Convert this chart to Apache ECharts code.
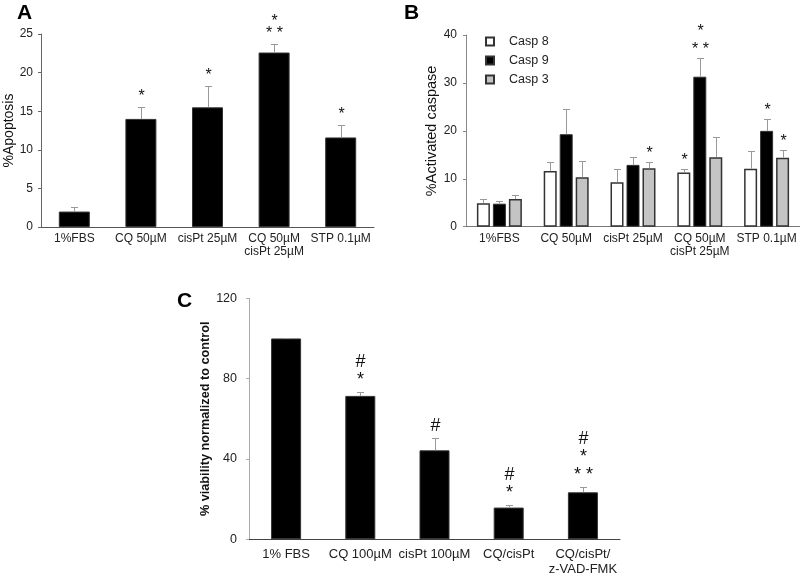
<!DOCTYPE html>
<html><head><meta charset="utf-8">
<script src="https://cdn.jsdelivr.net/npm/echarts@6/dist/echarts.min.js"></script>
<style>html,body{margin:0;padding:0;background:#fff}#c{width:800px;height:576px}</style>
</head><body><div id="c"></div>
<script>
// ---- data ----
const categoriesA = ['1%FBS', 'CQ 50µM', 'cisPt 25µM', 'CQ 50µM\ncisPt 25µM', 'STP 0.1µM'];
const apoptosis = [2.0, 14.0, 15.5, 22.6, 11.6];
const apoptosisErr = [0.65, 1.6, 2.7, 1.15, 1.6];
const apoptosisSig = ['', '*', '*', '*\n* *', '*'];

const categoriesB = ['1%FBS', 'CQ 50µM', 'cisPt 25µM', 'CQ 50µM\ncisPt 25µM', 'STP 0.1µM'];
const casp8 = [4.9, 11.6, 9.3, 11.3, 12.1];
const casp8Err = [0.9, 1.8, 2.7, 0.7, 3.6];
const casp8Sig = ['', '', '', '*', ''];
const casp9 = [4.8, 19.3, 12.9, 31.3, 20.0];
const casp9Err = [0.6, 5.2, 1.7, 3.9, 2.4];
const casp9Sig = ['', '', '', '*\n* *', '*'];
const casp3 = [5.8, 10.3, 12.2, 14.5, 14.4];
const casp3Err = [0.8, 3.5, 1.2, 4.3, 1.6];
const casp3Sig = ['', '', '*', '', '*'];

const categoriesC = ['1% FBS', 'CQ 100µM', 'cisPt 100µM', 'CQ/cisPt', 'CQ/cisPt/\nz-VAD-FMK'];
const viability = [100, 71.4, 44.3, 15.8, 23.4];
const viabilityErr = [0.3, 1.8, 6.0, 1.1, 2.5];
const viabilitySig = ['', '#\n*', '#', '#\n*', '#\n*\n* *'];

// ---- chart ----
const FONT = '"Liberation Sans", Arial, Helvetica, sans-serif';
const chart = echarts.init(document.getElementById('c'), null, {renderer: 'canvas'});

function errSeries(name, idx, values, errors, sigs, offset, sig) {
  return {
    type: 'custom', name: name, xAxisIndex: idx, yAxisIndex: idx, z: 5, silent: true,
    data: values.map((v, i) => [i, v, errors[i]]),
    renderItem: function (params, api) {
      const i = api.value(0), v = api.value(1), e = api.value(2);
      const base = api.coord([i, v]);
      const top = api.coord([i, v + e]);
      const cx = Math.round(base[0] + offset) + 0.5;
      const ty = Math.round(top[1]) + 0.5;
      const children = [
        {type: 'line', shape: {x1: cx, y1: base[1], x2: cx, y2: ty}, style: {stroke: '#999', lineWidth: 1}},
        {type: 'line', shape: {x1: cx - 3.5, y1: ty, x2: cx + 3.5, y2: ty}, style: {stroke: '#999', lineWidth: 1}}
      ];
      const s = sigs[params.dataIndex];
      if (s) {
        children.push({type: 'text', x: cx, y: ty - sig.gap, style: {
          text: s, align: 'center', verticalAlign: 'bottom', fontSize: sig.size,
          fontFamily: FONT, lineHeight: sig.lh, fill: '#111'
        }});
      }
      return {type: 'group', children: children};
    }
  };
}

function yAxis(idx, max, interval, name, gap, nameStyle, lineColor, margin, fs) {
  return {
    type: 'value', gridIndex: idx, min: 0, max: max, interval: interval,
    name: name, nameLocation: 'middle', nameRotate: 90, nameGap: gap,
    nameTextStyle: Object.assign({fontFamily: FONT, color: '#111'}, nameStyle),
    axisLine: {show: true, lineStyle: {color: lineColor, width: 1}},
    axisTick: {show: true, length: 3, lineStyle: {color: lineColor}},
    splitLine: {show: false},
    axisLabel: {fontFamily: FONT, fontSize: fs, color: '#222', margin: margin}
  };
}
function xAxis(idx, cats, lineColor, fs, lh, margin) {
  return {
    type: 'category', gridIndex: idx, data: cats,
    axisLine: {show: true, lineStyle: {color: lineColor, width: 1}},
    axisTick: {show: false},
    axisLabel: {fontFamily: FONT, fontSize: fs, color: '#222', lineHeight: lh, margin: margin, interval: 0}
  };
}

const sigA = {size: 16, lh: 12, gap: 5};
const sigB = {size: 16, lh: 18, gap: 0};
const sigC = {size: 18, lh: 18, gap: 3};

const option = {
  backgroundColor: '#fff',
  animation: false,
  title: [
    {text: 'A', left: 17, top: 3, padding: 0, textStyle: {fontFamily: FONT, fontSize: 21, fontWeight: 'bold', color: '#000'}},
    {text: 'B', left: 404, top: 3, padding: 0, textStyle: {fontFamily: FONT, fontSize: 21, fontWeight: 'bold', color: '#000'}},
    {text: 'C', left: 177, top: 291, padding: 0, textStyle: {fontFamily: FONT, fontSize: 21, fontWeight: 'bold', color: '#000'}}
  ],
  legend: {
    data: ['Casp 8', 'Casp 9', 'Casp 3'], orient: 'vertical', left: 485, top: 35, padding: 0,
    itemWidth: 8, itemHeight: 8, itemGap: 6, icon: 'rect',
    textStyle: {fontFamily: FONT, fontSize: 12.5, color: '#222', padding: [0, 0, 0, 10]}
  },
  grid: [
    {left: 41, right: 426, top: 34, bottom: 349, outerBoundsMode: 'none'},
    {left: 466, right: 0, top: 35, bottom: 349.3, outerBoundsMode: 'none'},
    {left: 249, right: 180, top: 298.3, bottom: 36.7, outerBoundsMode: 'none'}
  ],
  xAxis: [
    xAxis(0, categoriesA, '#555', 12, 13, 5),
    xAxis(1, categoriesB, '#777', 12, 13, 5),
    xAxis(2, categoriesC, '#444', 13, 15, 8)
  ],
  yAxis: [
    yAxis(0, 25, 5, '%Apoptosis', 24, {fontSize: 14}, '#666', 8, 12),
    yAxis(1, 40, 10, '%Activated caspase', 27, {fontSize: 14.5}, '#888', 9, 12),
    yAxis(2, 120, 40, '% viability normalized to control', 36, {fontSize: 12.7, fontWeight: 'bold'}, '#aaa', 12, 12.5)
  ],
  series: [
    {type: 'bar', name: 'Apoptosis', xAxisIndex: 0, yAxisIndex: 0, data: apoptosis, barWidth: 31,
      itemStyle: {color: '#000', borderColor: '#333', borderWidth: 1}},
    errSeries('errA', 0, apoptosis, apoptosisErr, apoptosisSig, 0, sigA),

    {type: 'bar', name: 'Casp 8', xAxisIndex: 1, yAxisIndex: 1, data: casp8, barWidth: 13, barGap: '23%',
      itemStyle: {color: '#fff', borderColor: '#333', borderWidth: 1.5}},
    {type: 'bar', name: 'Casp 9', xAxisIndex: 1, yAxisIndex: 1, data: casp9, barWidth: 13, barGap: '23%',
      itemStyle: {color: '#000', borderColor: '#333', borderWidth: 1}},
    {type: 'bar', name: 'Casp 3', xAxisIndex: 1, yAxisIndex: 1, data: casp3, barWidth: 13, barGap: '23%',
      itemStyle: {color: '#c4c4c4', borderColor: '#333', borderWidth: 1.5}},
    errSeries('err8', 1, casp8, casp8Err, casp8Sig, -16, sigB),
    errSeries('err9', 1, casp9, casp9Err, casp9Sig, 0, sigB),
    errSeries('err3', 1, casp3, casp3Err, casp3Sig, 16, sigB),

    {type: 'bar', name: 'Viability', xAxisIndex: 2, yAxisIndex: 2, data: viability, barWidth: 30,
      itemStyle: {color: '#000', borderColor: '#333', borderWidth: 1}},
    errSeries('errC', 2, viability, viabilityErr, viabilitySig, 0, sigC)
  ]
};
chart.setOption(option);
</script>
</body></html>
